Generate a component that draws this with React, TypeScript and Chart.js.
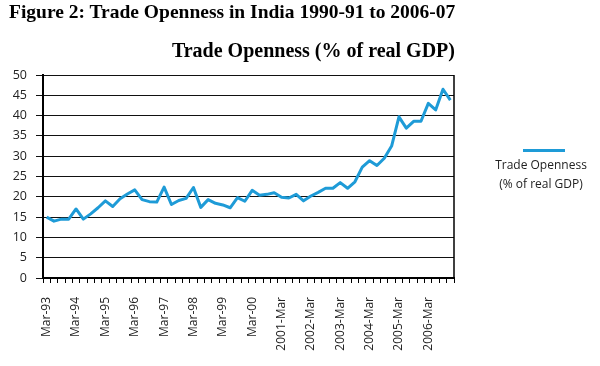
import React, { useEffect, useRef } from "react";
import { Chart, registerables } from "chart.js";

Chart.register(...registerables);

const quarters: string[] = [
  "Mar-93","Jun-93","Sep-93","Dec-93",
  "Mar-94","Jun-94","Sep-94","Dec-94",
  "Mar-95","Jun-95","Sep-95","Dec-95",
  "Mar-96","Jun-96","Sep-96","Dec-96",
  "Mar-97","Jun-97","Sep-97","Dec-97",
  "Mar-98","Jun-98","Sep-98","Dec-98",
  "Mar-99","Jun-99","Sep-99","Dec-99",
  "Mar-00","Jun-00","Sep-00","Dec-00",
  "2001-Mar","2001-Jun","2001-Sep","2001-Dec",
  "2002-Mar","2002-Jun","2002-Sep","2002-Dec",
  "2003-Mar","2003-Jun","2003-Sep","2003-Dec",
  "2004-Mar","2004-Jun","2004-Sep","2004-Dec",
  "2005-Mar","2005-Jun","2005-Sep","2005-Dec",
  "2006-Mar","2006-Jun","2006-Sep","2006-Dec",
];

const tradeOpenness: number[] = [
  15.0, 14.0, 14.5, 14.5,
  17.0, 14.5, 15.8, 17.3,
  19.0, 17.6, 19.5, 20.7,
  21.7, 19.3, 18.8, 18.7,
  22.4, 18.1, 19.1, 19.6,
  22.3, 17.4, 19.3, 18.4,
  18.0, 17.3, 19.8, 18.9,
  21.6, 20.4, 20.6, 21.0,
  19.9, 19.7, 20.6, 19.0,
  20.2, 21.1, 22.1, 22.1,
  23.5, 22.1, 23.7, 27.3,
  28.9, 27.7, 29.5, 32.5,
  39.7, 36.9, 38.6, 38.6,
  43.0, 41.4, 46.5, 43.8,
];

const yMin = 0;
const yMax = 50;
const yStep = 5;

const TITLE = "Figure 2: Trade Openness in India 1990-91 to 2006-07";
const SUBTITLE = "Trade Openness (% of real GDP)";
const SERIES_NAME = ["Trade Openness", "(% of real GDP)"];

const LINE_COLOR = "#1e9bd7";
const SANS = "'Open Sans', 'DejaVu Sans', sans-serif";
const SERIF = "'Liberation Serif', 'Times New Roman', serif";

const rightBorder = {
  id: "rightBorder",
  afterDraw(chart: any) {
    const { ctx, chartArea } = chart;
    ctx.save();
    ctx.strokeStyle = "#000";
    ctx.lineWidth = 1.5;
    ctx.beginPath();
    ctx.moveTo(chartArea.right, chartArea.top);
    ctx.lineTo(chartArea.right, chartArea.bottom);
    ctx.stroke();
    ctx.restore();
  },
};

export default function App() {
  const canvasRef = useRef<HTMLCanvasElement | null>(null);

  useEffect(() => {
    const canvas = canvasRef.current;
    if (!canvas) return;
    const chart = new Chart(canvas, {
      type: "line",
      data: {
        labels: quarters,
        datasets: [
          {
            label: SERIES_NAME.join(" "),
            data: tradeOpenness,
            borderColor: LINE_COLOR,
            backgroundColor: LINE_COLOR,
            borderWidth: 3,
            pointRadius: 0,
            tension: 0,
            borderJoinStyle: "round",
          },
        ],
      },
      options: {
        animation: false,
        responsive: false,
        maintainAspectRatio: false,
        layout: { padding: { left: 0, right: 146, top: 75, bottom: 0 } },
        plugins: {
          legend: { display: false },
          title: { display: false },
          tooltip: { enabled: false },
        },
        scales: {
          x: {
            type: "category",
            offset: true,
            grid: {
              display: true,
              drawOnChartArea: false,
              drawTicks: true,
              tickLength: 5,
              color: "#000",
              offset: true,
              lineWidth: 1,
            },
            border: { display: true, color: "#000", width: 2 },
            ticks: {
              autoSkip: false,
              maxRotation: 90,
              minRotation: 90,
              padding: 14,
              color: "#222",
              font: { family: SANS, size: 12 },
              callback: (_v: any, i: number) => (i % 4 === 0 ? quarters[i] : ""),
            },
            afterFit: (s: any) => {
              s.height = 88;
            },
          },
          y: {
            min: yMin,
            max: yMax,
            ticks: {
              stepSize: yStep,
              padding: 9,
              color: "#222",
              font: { family: SANS, size: 12.5 },
            },
            grid: {
              color: "#111",
              lineWidth: 1,
              drawTicks: true,
              tickLength: 7,
            },
            border: { display: true, color: "#000", width: 2 },
            afterFit: (s: any) => {
              s.width = 43;
            },
          },
        },
      },
      plugins: [rightBorder],
    } as any);
    return () => chart.destroy();
  }, []);

  return (
    <div
      style={{
        position: "fixed",
        left: 0,
        top: 0,
        width: 600,
        height: 366,
        background: "#fff",
        overflow: "hidden",
      }}
    >
      <canvas
        ref={canvasRef}
        width={600}
        height={366}
        style={{ position: "absolute", left: 0, top: 0, width: 600, height: 366 }}
      />
      <div
        style={{
          position: "absolute",
          left: 9,
          top: 2,
          fontFamily: SERIF,
          fontWeight: "bold",
          fontSize: 19.5,
          lineHeight: 1,
          whiteSpace: "nowrap",
          color: "#000",
        }}
      >
        {TITLE}
      </div>
      <div
        style={{
          position: "absolute",
          right: 145,
          top: 40,
          fontFamily: SERIF,
          fontWeight: "bold",
          fontSize: 20,
          lineHeight: 1,
          whiteSpace: "nowrap",
          color: "#000",
        }}
      >
        {SUBTITLE}
      </div>
      <div
        style={{
          position: "absolute",
          left: 523,
          top: 148.5,
          width: 42,
          height: 3,
          background: LINE_COLOR,
        }}
      />
      <div
        style={{
          position: "absolute",
          left: 481,
          width: 120,
          top: 155,
          textAlign: "center",
          fontFamily: SANS,
          fontSize: 12,
          lineHeight: "19px",
          color: "#222",
          whiteSpace: "nowrap",
        }}
      >
        <div>{SERIES_NAME[0]}</div>
        <div>{SERIES_NAME[1]}</div>
      </div>
    </div>
  );
}
